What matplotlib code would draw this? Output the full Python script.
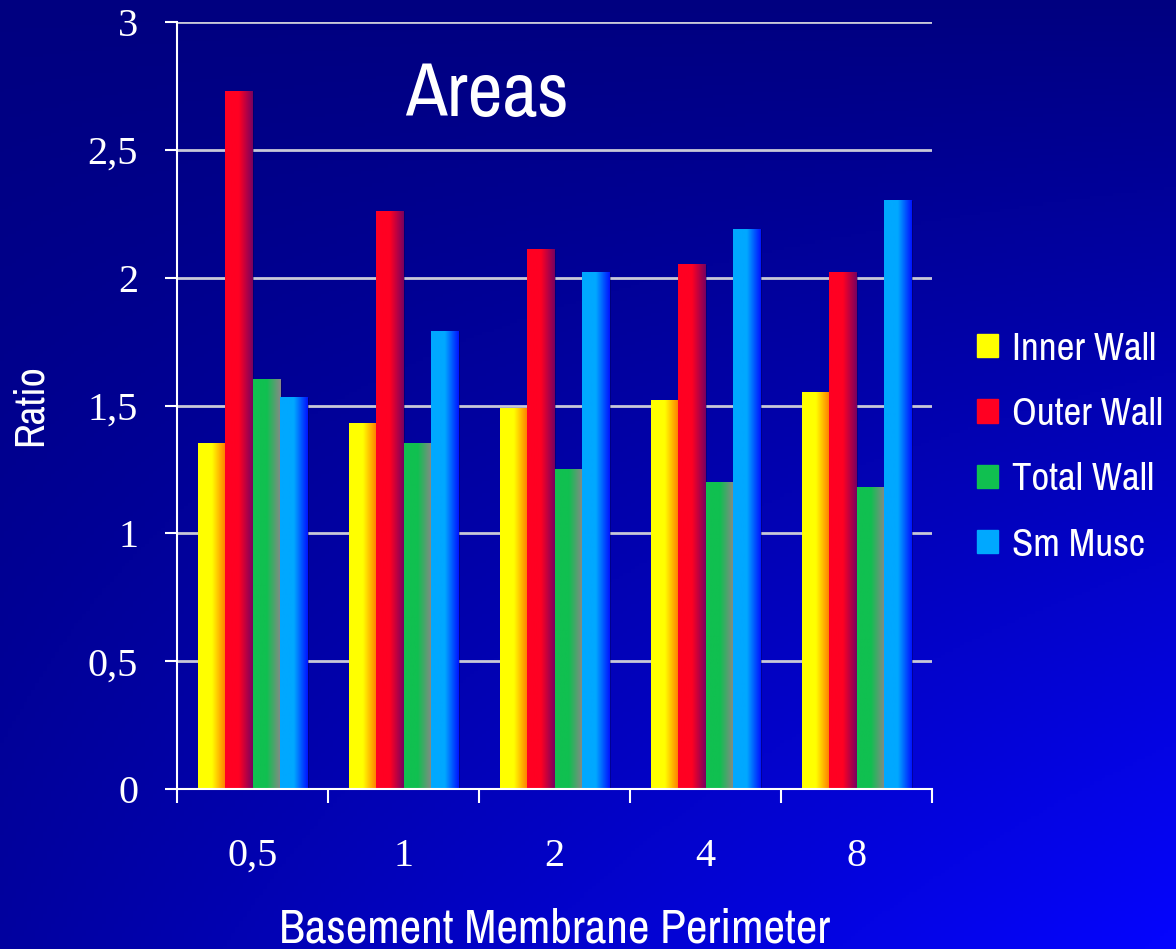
import numpy as np
import matplotlib.pyplot as plt
from matplotlib.colors import LinearSegmentedColormap
from matplotlib.patches import Rectangle
from matplotlib import font_manager

# Data
categories = ['0,5', '1', '2', '4', '8']
series_names = ['Inner Wall', 'Outer Wall', 'Total Wall', 'Sm Musc']
inner_wall = [1.35, 1.43, 1.49, 1.52, 1.55]
outer_wall = [2.73, 2.26, 2.11, 2.05, 2.02]
total_wall = [1.60, 1.35, 1.25, 1.20, 1.18]
sm_musc = [1.53, 1.79, 2.02, 2.19, 2.30]
y_ticks = [0, 0.5, 1, 1.5, 2, 2.5, 3]
y_tick_labels = ['0', '0,5', '1', '1,5', '2', '2,5', '3']

# left/right colours of the horizontal gradient in each bar
gradients = [('#ffff00', '#ff7a00'),
             ('#ff0022', '#7a0060'),
             ('#10c050', '#888888'),
             ('#00a8ff', '#0014ff')]

# a narrow sans for the labels, if one is around
names = {f.name for f in font_manager.fontManager.ttflist}
narrow = 'Liberation Sans'
for cand in ['Liberation Sans Narrow', 'Arial Narrow', 'Archivo Narrow',
             'PT Sans Narrow', 'Roboto Condensed', 'Pragati Narrow',
             'Fira Sans Condensed', 'Asap Condensed', 'Encode Sans Condensed']:
    if cand in names:
        narrow = cand
        break
serif = 'Liberation Serif'

fig = plt.figure(figsize=(11.76, 9.49), dpi=100)

# background: navy at the top, brightening towards the bottom right
bg = fig.add_axes([0, 0, 1, 1], zorder=-10)
yy, xx = np.mgrid[0:1:300j, 0:1:300j]
f = np.clip(yy * (0.25 + 0.75 * xx), 0, 1)
img = np.zeros((300, 300, 3))
img[..., 2] = (0x80 + (0xff - 0x80) * f) / 255.0
img[..., 0] = 0.02 * f
img[..., 1] = 0.02 * f
bg.imshow(img, extent=(0, 1, 0, 1), origin='upper', aspect='auto')
bg.axis('off')

ax = fig.add_axes([177 / 1176, 1 - 789 / 949, (932 - 177) / 1176, (789 - 22) / 949])
ax.patch.set_alpha(0)

series = [inner_wall, outer_wall, total_wall, sm_musc]
n = len(series)
width = 0.182
x = np.arange(len(categories))

for i, (vals, (c0, c1), name) in enumerate(zip(series, gradients, series_names)):
    cmap = LinearSegmentedColormap.from_list(name, [c0, c0, c1])
    grad = np.linspace(0, 1, 64).reshape(1, -1)
    offs = (i - (n - 1) / 2) * width
    bars = ax.bar(x + offs, vals, width, color=c0, label=name, zorder=2)
    for b in bars:
        x0, h = b.get_x(), b.get_height()
        # soft shadow on the right side
        ax.add_patch(Rectangle((x0 + 0.012, 0), width, h, color='#000040',
                               alpha=0.35, lw=0, zorder=1.5))
        ax.imshow(grad, cmap=cmap, extent=(x0, x0 + width, 0, h),
                  aspect='auto', zorder=2.5)
        b.set_visible(False)
ax.set_xlim(-0.5, len(categories) - 0.5)
ax.set_ylim(0, 3)

# gridlines
for t in y_ticks[1:]:
    ax.axhline(t, color='#c8c8d8', lw=2, zorder=1)

for s in ['top', 'right']:
    ax.spines[s].set_visible(False)
for s in ['left', 'bottom']:
    ax.spines[s].set_color('white')
    ax.spines[s].set_linewidth(1.5)

ax.set_yticks(y_ticks)
ax.set_yticklabels(y_tick_labels, fontfamily=serif, fontsize=29, color='white')
ax.set_xticks(x)
ax.set_xticklabels(categories, fontfamily=serif, fontsize=29, color='white')
ax.set_xticks(np.arange(-0.5, len(categories)), minor=True)
ax.tick_params(axis='x', which='major', length=0, pad=35)
ax.tick_params(axis='x', which='minor', length=10, width=1.5, color='white')
ax.tick_params(axis='y', length=9, width=1.5, color='white', pad=19)

ax.set_ylabel('Ratio', fontfamily=narrow, fontsize=30, color='white', labelpad=28)
ax.set_xlabel('Basement Membrane Perimeter', fontfamily=narrow, fontsize=34,
              color='white', labelpad=24)
ax.text(0.41, 0.905, 'Areas', transform=ax.transAxes, fontfamily=narrow,
        fontsize=55, color='white', ha='center', va='center')

handles = [Rectangle((0, 0), 1, 1, color=c0) for c0, _ in gradients]
leg = fig.legend(handles, series_names, loc='center left',
                 bbox_to_anchor=(942 / 1176, 1 - 447 / 949), frameon=False,
                 prop={'family': narrow, 'size': 28}, labelcolor='white',
                 handlelength=0.55, handleheight=0.55, handletextpad=0.35,
                 labelspacing=0.78)

fig.savefig('out.png', dpi=100)
